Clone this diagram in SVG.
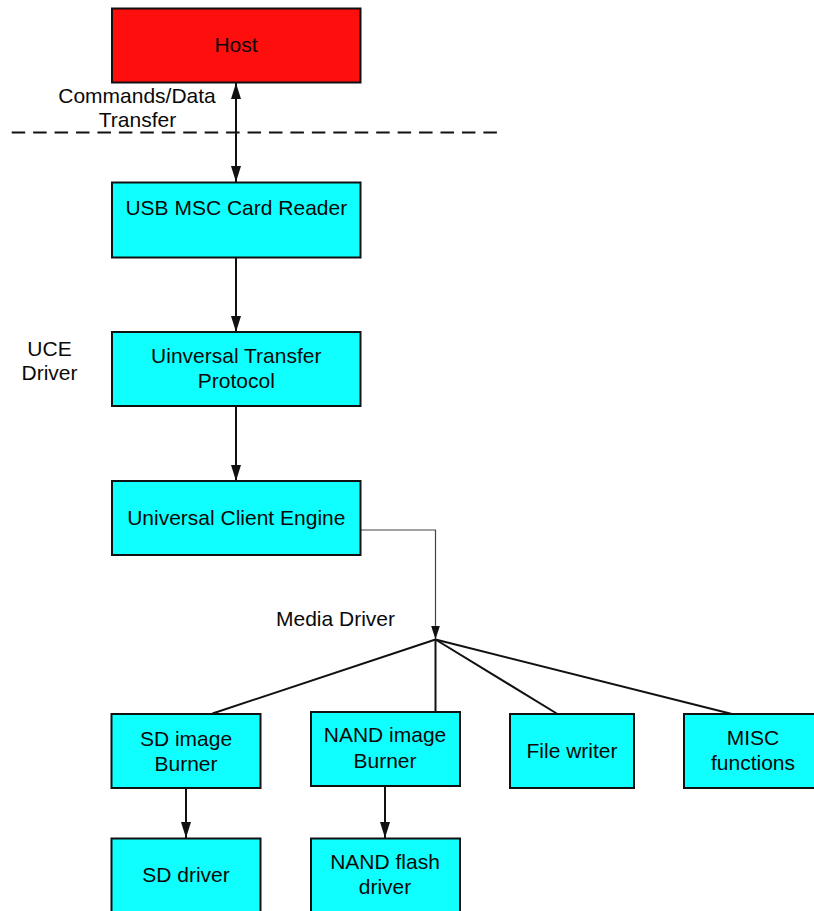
<svg xmlns="http://www.w3.org/2000/svg" width="814" height="911" viewBox="0 0 814 911">
  <style>
    .box { stroke: #111; stroke-width: 2; }
    .host { fill: #ff0e0e; }
    .blk { fill: #0fffff; }
    text { font-family: "Liberation Sans", Arial, sans-serif; font-size: 21px; fill: #0a0a0a; text-anchor: middle; }
    .wire { stroke: #111; stroke-width: 2; fill: none; }
    .thin { stroke: #444; stroke-width: 1.2; fill: none; }
    .dash { stroke: #111; stroke-width: 2; stroke-dasharray: 13.5 7.94; }
  </style>
  <defs>
    <marker id="arrow" markerUnits="userSpaceOnUse" markerWidth="16" markerHeight="10" refX="16" refY="5" orient="auto-start-reverse">
      <path d="M0,0 L16,5 L0,10 z" fill="#111"/>
    </marker>
    <marker id="arrowSmall" markerUnits="userSpaceOnUse" markerWidth="14" markerHeight="9" refX="14" refY="4.5" orient="auto">
      <path d="M0,0 L14,4.5 L0,9 z" fill="#111"/>
    </marker>
  </defs>

  <!-- boundary between host and device -->
  <line class="dash" x1="11.7" y1="132.5" x2="497" y2="132.5"/>

  <!-- free-standing labels -->
  <text x="137" y="103">Commands/Data</text>
  <text x="137.5" y="127">Transfer</text>
  <text x="49.5" y="355.5">UCE</text>
  <text x="49.5" y="380">Driver</text>
  <text x="335.5" y="626.3">Media Driver</text>

  <g id="connectors">
    <line class="wire" x1="236" y1="83" x2="236" y2="182" marker-start="url(#arrow)" marker-end="url(#arrow)"/>
    <line class="wire" x1="236" y1="257" x2="236" y2="332" marker-end="url(#arrow)"/>
    <line class="wire" x1="236" y1="406" x2="236" y2="481" marker-end="url(#arrow)"/>
    <path class="thin" d="M361,530 H435.5 V639.5" marker-end="url(#arrowSmall)"/>
    <line class="wire" x1="435.5" y1="639.5" x2="212.5" y2="713.5"/>
    <line class="wire" x1="435.5" y1="639.5" x2="435.5" y2="712"/>
    <line class="wire" x1="435.5" y1="639.5" x2="557.5" y2="714"/>
    <line class="wire" x1="435.5" y1="639.5" x2="732" y2="714"/>
    <line class="wire" x1="186" y1="788" x2="186" y2="838" marker-end="url(#arrow)"/>
    <line class="wire" x1="385" y1="786" x2="385" y2="838" marker-end="url(#arrow)"/>
  </g>

  <g id="host">
    <rect class="box host" x="112" y="8.5" width="248.5" height="74"/>
    <text x="236" y="52">Host</text>
  </g>
  <g id="usb-msc-card-reader">
    <rect class="box blk" x="112" y="182.5" width="248.5" height="75"/>
    <text x="236.3" y="214.5">USB MSC Card Reader</text>
  </g>
  <g id="universal-transfer-protocol">
    <rect class="box blk" x="112" y="332" width="248.5" height="74"/>
    <text x="236.3" y="363.3">Uinversal Transfer</text>
    <text x="236.3" y="388.3">Protocol</text>
  </g>
  <g id="universal-client-engine">
    <rect class="box blk" x="112" y="481" width="248.5" height="74"/>
    <text x="236.3" y="524.5">Universal Client Engine</text>
  </g>
  <g id="sd-image-burner">
    <rect class="box blk" x="111.5" y="714" width="149" height="74"/>
    <text x="186" y="745.5">SD image</text>
    <text x="186" y="770.5">Burner</text>
  </g>
  <g id="nand-image-burner">
    <rect class="box blk" x="311" y="712" width="149" height="74"/>
    <text x="385" y="742.3">NAND image</text>
    <text x="385" y="768.3">Burner</text>
  </g>
  <g id="file-writer">
    <rect class="box blk" x="510" y="714" width="124" height="74"/>
    <text x="572" y="758.3">File writer</text>
  </g>
  <g id="misc-functions">
    <rect class="box blk" x="684" y="714" width="139" height="74"/>
    <text x="753" y="744.5">MISC</text>
    <text x="753" y="770">functions</text>
  </g>
  <g id="sd-driver">
    <rect class="box blk" x="111.5" y="838.5" width="149" height="75"/>
    <text x="186" y="882.3">SD driver</text>
  </g>
  <g id="nand-flash-driver">
    <rect class="box blk" x="311" y="838.5" width="149" height="75"/>
    <text x="385" y="869">NAND flash</text>
    <text x="385" y="894">driver</text>
  </g>
</svg>
